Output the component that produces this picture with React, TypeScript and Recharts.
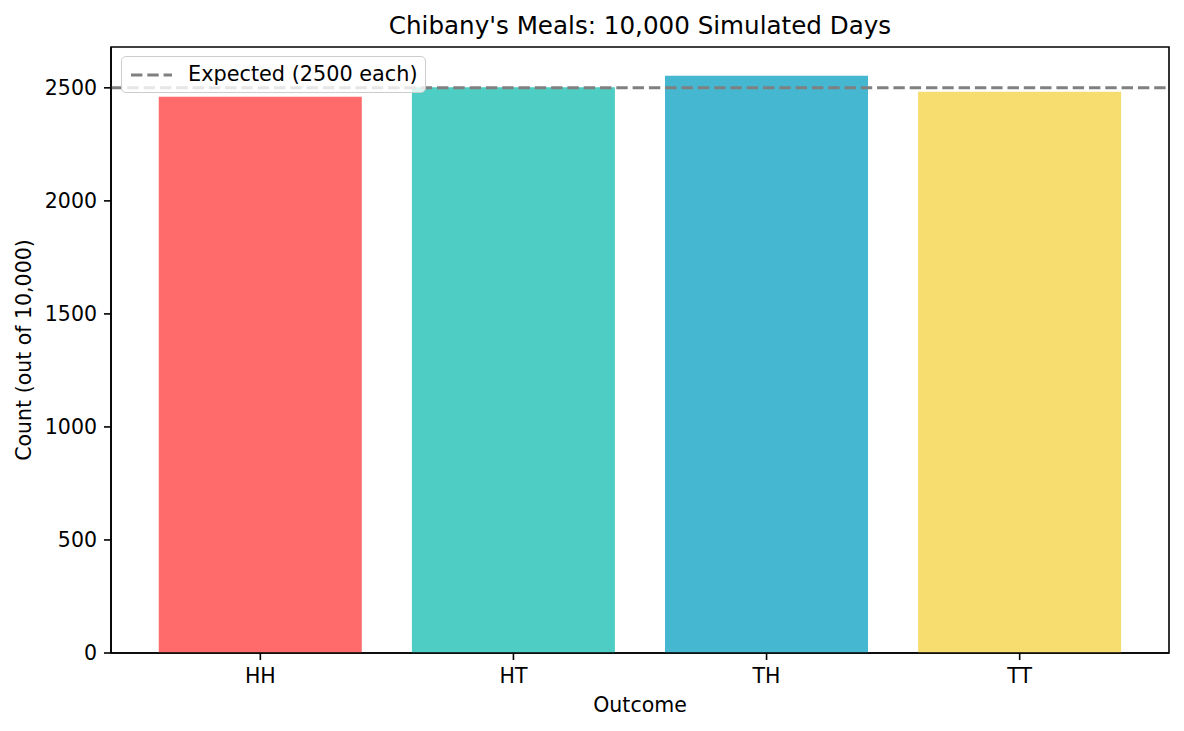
import { BarChart, Bar, XAxis, YAxis, ReferenceLine, ReferenceArea, Cell } from 'recharts';

// Simulated outcome counts (out of 10,000 days)
const outcomes = ['HH', 'HT', 'TH', 'TT'];
const counts = [2461, 2503, 2553, 2483];
const barColors = ['#FF6B6B', '#4ECDC4', '#45B7D1', '#F7DC6F'];
const yTicks = [0, 500, 1000, 1500, 2000, 2500];
const expected = 2500;

const FONT = '"DejaVu Sans", Verdana, sans-serif';
const TICK_FONT = 20.5;

export default function App() {
  const data = outcomes.map((name, i) => ({ pos: i, name, count: counts[i] }));
  const xTicks = data.map((d) => d.pos);
  // matplotlib-like margins: bar width 0.8, 5% padding on each side
  const span = outcomes.length - 1 + 0.8;
  const xDomain = [-0.4 - span * 0.05, outcomes.length - 1 + 0.4 + span * 0.05];
  const yMax = Math.max(...counts) * 1.05;

  return (
    <div style={{ position: 'relative', width: 1184, height: 731, fontFamily: FONT }}>
      <style>{'body{margin:0;background:#fff}'}</style>
      <BarChart
        width={1184}
        height={731}
        data={data}
        margin={{ top: 47, right: 15, bottom: 0, left: 0 }}
        barSize={203}
      >
        <XAxis
          dataKey="pos"
          type="number"
          domain={xDomain}
          allowDataOverflow
          ticks={xTicks}
          tickFormatter={(v: number) => outcomes[v]}
          height={78}
          tickSize={7}
          tickMargin={8}
          axisLine={{ stroke: '#000', strokeWidth: 1.6 }}
          tickLine={{ stroke: '#000', strokeWidth: 1.6 }}
          tick={{ fill: '#000', fontSize: TICK_FONT, fontFamily: FONT }}
          label={{ value: 'Outcome', position: 'insideBottom', offset: 19, fill: '#000', fontSize: TICK_FONT, fontFamily: FONT }}
        />
        <YAxis
          type="number"
          domain={[0, yMax]}
          allowDataOverflow
          ticks={yTicks}
          width={111}
          tickSize={7}
          tickMargin={7}
          axisLine={{ stroke: '#000', strokeWidth: 1.6 }}
          tickLine={{ stroke: '#000', strokeWidth: 1.6 }}
          tick={{ fill: '#000', fontSize: TICK_FONT, fontFamily: FONT }}
          label={{
            content: (props: any) => {
              const vb = props.viewBox;
              const cx = vb.x + 24;
              const cy = vb.y + vb.height / 2;
              return (
                <text
                  x={cx}
                  y={cy}
                  transform={`rotate(-90 ${cx} ${cy})`}
                  textAnchor="middle"
                  dominantBaseline="central"
                  fill="#000"
                  fontSize={TICK_FONT}
                  fontFamily={FONT}
                >
                  Count (out of 10,000)
                </text>
              );
            },
          }}
        />
        <Bar dataKey="count" isAnimationActive={false}>
          {data.map((d, i) => (
            <Cell key={d.name} fill={barColors[i]} />
          ))}
        </Bar>
        <ReferenceLine
          y={expected}
          stroke="#808080"
          strokeWidth={3}
          strokeDasharray="11.4 4.9"
        />
        {/* full axes frame + title */}
        <ReferenceArea
          x1={xDomain[0]}
          x2={xDomain[1]}
          y1={0}
          y2={yMax}
          fill="none"
          fillOpacity={0}
          stroke="#000"
          strokeWidth={1.6}
          ifOverflow="visible"
          label={{
            value: "Chibany's Meals: 10,000 Simulated Days",
            position: 'top',
            offset: 13,
            fill: '#000',
            fontSize: 24.6,
            fontFamily: FONT,
          }}
        />
      </BarChart>

      {/* legend box, matplotlib style (semi-transparent frame) */}
      <div
        style={{
          position: 'absolute',
          left: 121,
          top: 56,
          width: 305,
          height: 37,
          boxSizing: 'border-box',
          border: '1.5px solid #cccccc',
          borderRadius: 5,
          background: 'rgba(255,255,255,0.8)',
          display: 'flex',
          alignItems: 'center',
        }}
      >
        <svg width={50} height={20} style={{ marginLeft: 8 }}>
          <line x1={1} y1={10} x2={42} y2={10} stroke="#808080" strokeWidth={3} strokeDasharray="11.4 4.9" />
        </svg>
        <span style={{ fontSize: 20.8, color: '#000', marginLeft: 8, lineHeight: 1 }}>Expected (2500 each)</span>
      </div>
    </div>
  );
}
